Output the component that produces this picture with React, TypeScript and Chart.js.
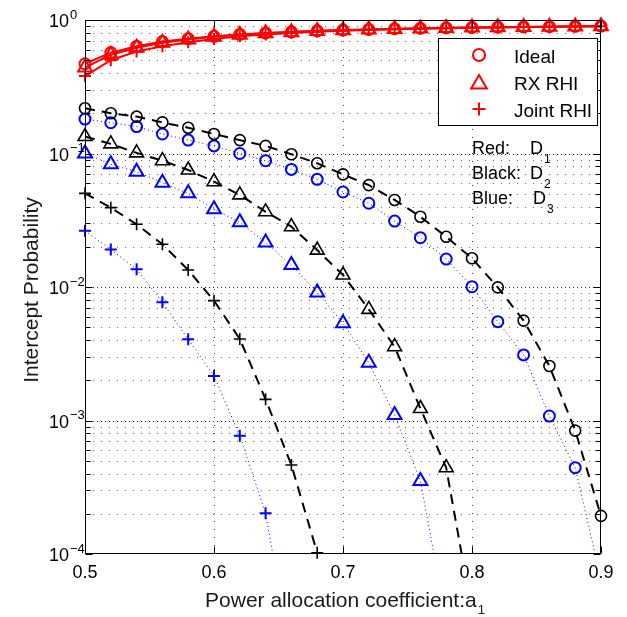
import React, { useEffect, useRef } from 'react';
import { Chart, registerables } from 'chart.js';

Chart.register(...registerables);

const xValues = [0.5, 0.52, 0.54, 0.56, 0.58, 0.6, 0.62, 0.64, 0.66, 0.68, 0.7, 0.72, 0.74, 0.76, 0.78, 0.8, 0.82, 0.84, 0.86, 0.88, 0.9];

const redIdeal = [0.47, 0.57, 0.635, 0.69, 0.725, 0.755, 0.78, 0.8, 0.815, 0.83, 0.84, 0.85, 0.86, 0.867, 0.873, 0.879, 0.884, 0.888, 0.892, 0.896, 0.9];
const redRx = [0.44, 0.55, 0.62, 0.675, 0.715, 0.748, 0.775, 0.795, 0.81, 0.826, 0.837, 0.848, 0.858, 0.865, 0.871, 0.877, 0.882, 0.887, 0.891, 0.895, 0.899];
const redJoint = [0.38, 0.5, 0.58, 0.635, 0.68, 0.72, 0.755, 0.78, 0.8, 0.817, 0.83, 0.843, 0.853, 0.861, 0.868, 0.874, 0.88, 0.885, 0.889, 0.893, 0.897];

const blackIdeal = [0.218, 0.2, 0.189, 0.171, 0.156, 0.14, 0.126, 0.114, 0.0986, 0.0845, 0.0698, 0.058, 0.0449, 0.0336, 0.0238, 0.0164, 0.00994, 0.0056, 0.00256, 0.00084, 0.000193];
const blackRx = [0.134, 0.118, 0.101, 0.0883, 0.0752, 0.0615, 0.049, 0.0366, 0.0283, 0.0189, 0.0123, 0.0068, 0.00357, 0.00123, 0.000443, 0.000037];
const blackJoint = [0.0503, 0.0393, 0.0295, 0.0209, 0.0134, 0.0079, 0.00408, 0.00144, 0.000464, 0.000102];

const blueIdeal = [0.181, 0.17, 0.159, 0.14, 0.126, 0.114, 0.1, 0.0883, 0.076, 0.064, 0.0515, 0.0424, 0.0312, 0.0234, 0.0162, 0.01005, 0.0055, 0.0031, 0.00108, 0.000443, 0.000065];
const blueRx = [0.1, 0.083, 0.073, 0.0604, 0.0503, 0.0382, 0.0305, 0.0215, 0.0146, 0.0091, 0.00535, 0.00271, 0.0011, 0.000352, 0.000032];
const blueJoint = [0.0264, 0.0191, 0.0136, 0.00768, 0.00406, 0.00215, 0.00077, 0.000202, 0.000016];

const xTickValues = [0.5, 0.6, 0.7, 0.8, 0.9];
const xTickLabels = ['0.5', '0.6', '0.7', '0.8', '0.9'];
const yTickValues = [1e-4, 1e-3, 1e-2, 1e-1, 1];
const yTickExponents = ['\u22124', '\u22123', '\u22122', '\u22121', '0'];
const legendLabels = ['Ideal', 'RX RHI', 'Joint RHI'];
const legendMarkers = ['circle', 'triangle', 'cross'];
const noteLabels = ['Red:', 'Black:', 'Blue:'];
const noteSubs = ['1', '2', '3'];
const xTitle = 'Power allocation coefficient:a';
const xTitleSub = '1';
const yTitle = 'Intercept Probability';

const FONT = "'Liberation Sans', Arial, Helvetica, sans-serif";
const RED = '#ff0000';
const BLACK = '#000000';
const BLUE = '#0000ff';

function pts(arr: number[]) {
  return arr.map((v, i) => ({ x: xValues[i], y: v }));
}

function marker(ctx: CanvasRenderingContext2D, kind: string, cx: number, cy: number, r: number) {
  ctx.beginPath();
  if (kind === 'circle') {
    ctx.arc(cx, cy, r, 0, Math.PI * 2);
  } else if (kind === 'triangle') {
    const s = Math.sin((2 * Math.PI) / 3) * r;
    ctx.moveTo(cx, cy - r);
    ctx.lineTo(cx + s, cy + r / 2);
    ctx.lineTo(cx - s, cy + r / 2);
    ctx.closePath();
  } else {
    ctx.moveTo(cx - r, cy);
    ctx.lineTo(cx + r, cy);
    ctx.moveTo(cx, cy - r);
    ctx.lineTo(cx, cy + r);
  }
  ctx.stroke();
}

const matlabPlugin = {
  id: 'matlabLook',
  beforeDatasetsDraw(chart: any) {
    const { ctx, chartArea: a, scales } = chart;
    const x = scales.x;
    const y = scales.y;
    ctx.save();
    ctx.lineWidth = 1;
    for (let e = -4; e < 0; e++) {
      for (let k = 1; k <= 9; k++) {
        if (k === 1 && e === -4) continue;
        const v = k * Math.pow(10, e);
        const py = Math.round(y.getPixelForValue(v)) + 0.5;
        ctx.setLineDash(k === 1 ? [1, 3] : [1, 7]);
        ctx.strokeStyle = k === 1 ? 'rgba(0,0,0,0.85)' : 'rgba(0,0,0,0.6)';
        ctx.beginPath();
        ctx.moveTo(a.left, py);
        ctx.lineTo(a.right, py);
        ctx.stroke();
      }
    }
    ctx.setLineDash([1, 7]);
    ctx.strokeStyle = 'rgba(0,0,0,0.75)';
    for (const v of xTickValues) {
      if (v === xTickValues[0] || v === xTickValues[xTickValues.length - 1]) continue;
      const px = Math.round(x.getPixelForValue(v)) + 0.5;
      ctx.beginPath();
      ctx.moveTo(px, a.bottom);
      ctx.lineTo(px, a.top);
      ctx.stroke();
    }
    ctx.restore();
  },
  afterDatasetsDraw(chart: any) {
    const { ctx, chartArea: a, scales } = chart;
    const x = scales.x;
    const y = scales.y;
    ctx.save();
    ctx.setLineDash([]);
    ctx.strokeStyle = '#000';
    ctx.lineWidth = 1;
    const L = a.left + 0.5, R = a.right - 0.5, T = a.top + 0.5, B = a.bottom - 0.5;
    ctx.strokeRect(L, T, R - L, B - T);
    ctx.beginPath();
    for (let e = -4; e <= 0; e++) {
      for (let k = 1; k <= 9; k++) {
        if (e === 0 && k > 1) break;
        const v = k * Math.pow(10, e);
        const py = Math.round(y.getPixelForValue(v)) + 0.5;
        const len = k === 1 ? 7 : 5;
        ctx.moveTo(L, py); ctx.lineTo(L + len, py);
        ctx.moveTo(R, py); ctx.lineTo(R - len, py);
      }
    }
    for (const v of xTickValues) {
      const px = Math.round(x.getPixelForValue(v)) + 0.5;
      ctx.moveTo(px, B); ctx.lineTo(px, B - 7);
      ctx.moveTo(px, T); ctx.lineTo(px, T + 7);
    }
    ctx.stroke();

    ctx.fillStyle = '#000';
    ctx.textBaseline = 'alphabetic';
    ctx.font = `18px ${FONT}`;
    ctx.textAlign = 'center';
    xTickValues.forEach((v, i) => {
      ctx.fillText(xTickLabels[i], x.getPixelForValue(v), 578);
    });
    ctx.textAlign = 'left';
    yTickValues.forEach((v, i) => {
      const py = y.getPixelForValue(v);
      ctx.font = `18px ${FONT}`;
      ctx.fillText('10', 49, py + 7);
      const w = ctx.measureText('10').width;
      ctx.font = `13px ${FONT}`;
      ctx.fillText(yTickExponents[i], 49 + w + 1, py - 1.5);
    });

    ctx.fillStyle = '#1a1a1a';
    ctx.font = `21px ${FONT}`;
    const mw = ctx.measureText(xTitle).width;
    ctx.font = `13px ${FONT}`;
    const sw = ctx.measureText(xTitleSub).width;
    const cx = (a.left + a.right) / 2 + 2;
    const sx = cx - (mw + sw + 1) / 2;
    ctx.font = `21px ${FONT}`;
    ctx.fillText(xTitle, sx, 607);
    ctx.font = `13px ${FONT}`;
    ctx.fillText(xTitleSub, sx + mw + 1, 614);

    ctx.save();
    ctx.translate(38, (a.top + a.bottom) / 2 + 3);
    ctx.rotate(-Math.PI / 2);
    ctx.textAlign = 'center';
    ctx.font = `21px ${FONT}`;
    ctx.fillText(yTitle, 0, 0);
    ctx.restore();

    ctx.fillStyle = '#fff';
    ctx.fillRect(438, 38, 160, 88);
    ctx.strokeStyle = '#000';
    ctx.lineWidth = 1;
    ctx.strokeRect(438.5, 38.5, 159, 87);
    const rows = [55, 82, 109];
    const radii = [6, 9, 6.5];
    legendLabels.forEach((lab, i) => {
      ctx.strokeStyle = RED;
      ctx.lineWidth = 2;
      marker(ctx, legendMarkers[i], 479, rows[i] + (legendMarkers[i] === 'triangle' ? 2 : 0), radii[i]);
      ctx.fillStyle = '#000';
      ctx.font = `19px ${FONT}`;
      ctx.textAlign = 'left';
      ctx.fillText(lab, 514, rows[i] + 7.5);
    });

    const noteBase = [154, 179, 204];
    const dX = [530, 530, 533];
    noteLabels.forEach((lab, i) => {
      ctx.fillStyle = '#000';
      ctx.font = `18px ${FONT}`;
      ctx.fillText(lab, 472, noteBase[i]);
      ctx.fillText('D', dX[i], noteBase[i]);
      const dw = ctx.measureText('D').width;
      ctx.font = `12px ${FONT}`;
      ctx.fillText(noteSubs[i], dX[i] + dw + 1, noteBase[i] + 9);
    });
    ctx.restore();
  },
};

function ds(label: string, arr: number[], color: string, style: string, radius: number, width: number, dash: number[], pbw: number, clip: any) {
  return {
    label,
    data: pts(arr),
    borderColor: color,
    backgroundColor: color,
    borderWidth: width,
    borderDash: dash,
    pointStyle: style,
    pointRadius: radius,
    pointHoverRadius: radius,
    pointBorderColor: color,
    pointBackgroundColor: 'rgba(0,0,0,0)',
    pointBorderWidth: pbw,
    tension: 0,
    fill: false,
    clip,
  };
}

export default function App() {
  const ref = useRef<HTMLCanvasElement | null>(null);
  useEffect(() => {
    if (!ref.current) return;
    const open = 10;
    const cut = { left: 10, top: 10, right: 10, bottom: 0 };
    const chart = new Chart(ref.current, {
      type: 'line',
      data: {
        datasets: [
          ds('Red Ideal', redIdeal, RED, 'circle', 5.5, 2, [], 2, open),
          ds('Red RX RHI', redRx, RED, 'triangle', 8, 2, [], 2, open),
          ds('Red Joint RHI', redJoint, RED, 'cross', 6, 2, [], 2, open),
          ds('Black Ideal', blackIdeal, BLACK, 'circle', 5.5, 2, [10, 7], 1.6, open),
          ds('Black RX RHI', blackRx, BLACK, 'triangle', 8, 2, [10, 7], 1.6, cut),
          ds('Black Joint RHI', blackJoint, BLACK, 'cross', 6, 2, [10, 7], 1.6, open),
          ds('Blue Ideal', blueIdeal, BLUE, 'circle', 5.5, 1, [1, 3], 2, cut),
          ds('Blue RX RHI', blueRx, BLUE, 'triangle', 8, 1, [1, 3], 2, cut),
          ds('Blue Joint RHI', blueJoint, BLUE, 'cross', 6, 1, [1, 3], 2, cut),
        ] as any,
      },
      options: {
        responsive: false,
        maintainAspectRatio: false,
        devicePixelRatio: 1,
        animation: false,
        events: [],
        layout: { padding: { top: 20, right: 26, left: 0, bottom: 0 } },
        plugins: { legend: { display: false }, tooltip: { enabled: false }, title: { display: false } },
        scales: {
          x: {
            type: 'linear',
            min: 0.5,
            max: 0.9,
            ticks: { display: false },
            grid: { display: false },
            border: { display: false },
            afterFit: (s: any) => { s.height = 63; },
          },
          y: {
            type: 'logarithmic',
            min: 1e-4,
            max: 1,
            ticks: { display: false },
            grid: { display: false },
            border: { display: false },
            afterFit: (s: any) => { s.width = 85; },
          },
        },
      } as any,
      plugins: [matlabPlugin],
    });
    return () => chart.destroy();
  }, []);
  return (
    <div style={{ position: 'absolute', left: 0, top: 0, width: 627, height: 617, background: '#fff' }}>
      <canvas ref={ref} width={627} height={617} style={{ display: 'block', width: 627, height: 617 }} />
    </div>
  );
}
